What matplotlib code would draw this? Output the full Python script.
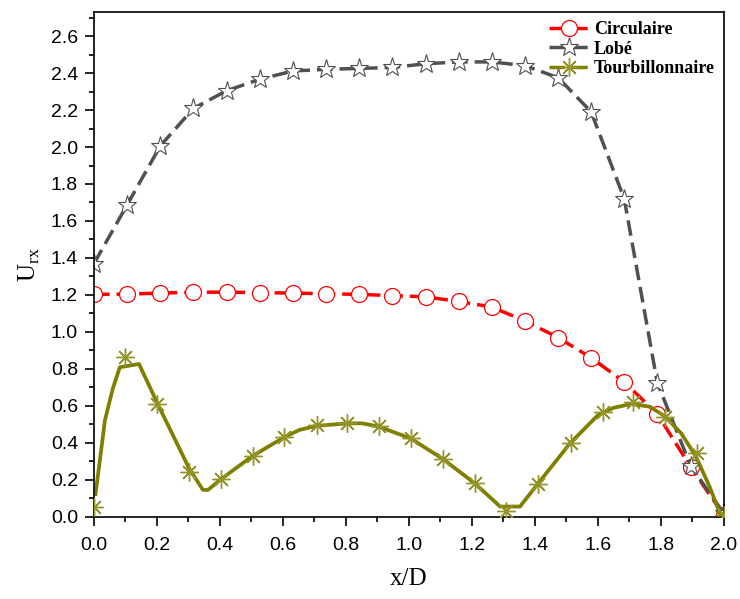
import matplotlib
matplotlib.use("Agg")
import matplotlib.pyplot as plt
from matplotlib.ticker import MultipleLocator

# x/D positions of the markers (circulaire and lobe share them)
x_pts = [0.0, 0.105, 0.211, 0.316, 0.421, 0.526, 0.632, 0.737, 0.842, 0.947,
         1.053, 1.158, 1.263, 1.368, 1.474, 1.579, 1.684, 1.789, 1.895, 2.0]

circulaire = [1.203, 1.205, 1.21, 1.215, 1.215, 1.213, 1.21, 1.207, 1.203, 1.197,
              1.19, 1.165, 1.135, 1.06, 0.97, 0.86, 0.73, 0.557, 0.27, 0.01]

lobe = [1.37, 1.686, 2.007, 2.209, 2.304, 2.366, 2.411, 2.42, 2.425, 2.43,
        2.45, 2.46, 2.46, 2.44, 2.375, 2.19, 1.72, 0.726, 0.276, 0.02]

# tourbillonnaire: markers and the (denser) solid curve
tourb_x = [0.0, 0.098, 0.201, 0.302, 0.402, 0.504, 0.604, 0.707, 0.805, 0.905,
           1.008, 1.108, 1.209, 1.308, 1.411, 1.515, 1.617, 1.712, 1.814, 1.916, 2.0]
tourb_y = [0.055, 0.867, 0.611, 0.245, 0.204, 0.33, 0.434, 0.497, 0.506, 0.492,
           0.427, 0.315, 0.182, 0.03, 0.18, 0.398, 0.567, 0.62, 0.54, 0.348, 0.01]

curve_x = [0.005, 0.035, 0.06, 0.082, 0.143, 0.204, 0.302, 0.346, 0.362, 0.404,
           0.504, 0.604, 0.652, 0.705, 0.805, 0.852, 0.905, 1.005, 1.105, 1.209,
           1.29, 1.353, 1.411, 1.512, 1.601, 1.65, 1.707, 1.765, 1.812, 1.865,
           1.912, 1.955, 1.99]
curve_y = [0.124, 0.524, 0.695, 0.809, 0.827, 0.605, 0.263, 0.146, 0.146, 0.205,
           0.33, 0.431, 0.47, 0.492, 0.506, 0.506, 0.488, 0.425, 0.317, 0.182,
           0.056, 0.056, 0.182, 0.398, 0.551, 0.59, 0.611, 0.596, 0.546, 0.452,
           0.326, 0.164, 0.01]

fig = plt.figure(figsize=(7.40, 5.99), dpi=100)
ax = fig.add_axes([0.127, 0.137, 0.851, 0.843])

ax.plot(x_pts, circulaire, color="red", lw=2.5, dashes=(4.5, 2),
        marker="o", ms=11.5, mfc="white", mec="red", mew=0.9, label="Circulaire")
ax.plot(x_pts, lobe, color="#505050", lw=2.5, dashes=(4.5, 2),
        marker="*", ms=14, mfc="white", mec="#505050", mew=0.8, label="Lobé")
ax.plot(curve_x, curve_y, color="#808000", lw=2.7, solid_joinstyle="round")
ax.plot(tourb_x, tourb_y, ls="none", marker=(8, 2, 0), ms=13, mec="#94942a",
        mew=1.0, zorder=3)
# proxy for the legend entry
ax.plot([], [], color="#808000", lw=2.5, dashes=(4.5, 2), marker=(8, 2, 0), ms=13,
        mec="#94942a", mew=1.0, label="Tourbillonnaire")

ax.set_xlim(0, 2.0)
ax.set_ylim(0, 2.73)
ax.xaxis.set_major_locator(MultipleLocator(0.2))
ax.xaxis.set_minor_locator(MultipleLocator(0.1))
ax.yaxis.set_major_locator(MultipleLocator(0.2))
ax.yaxis.set_minor_locator(MultipleLocator(0.1))
ax.tick_params(which="both", direction="out", top=False, right=False, width=1.2)
ax.tick_params(which="major", length=6.5, labelsize=14, pad=5)
ax.tick_params(axis="x", which="major", pad=8)
ax.tick_params(which="minor", length=3.5)
for lab in ax.get_xticklabels() + ax.get_yticklabels():
    lab.set_fontfamily("Liberation Sans")
for s in ax.spines.values():
    s.set_linewidth(1.2)

ax.set_xlabel("x/D", fontsize=18, family="Liberation Serif", labelpad=10)
ax.set_ylabel(r"U$_{\mathregular{rx}}$", fontsize=18, family="Liberation Serif", labelpad=6)

ax.legend(loc="upper right", bbox_to_anchor=(1.0, 1.0), frameon=False,
          prop={"family": "Liberation Serif", "weight": "bold", "size": 13},
          handlelength=2.3, handletextpad=0.2, labelspacing=0.15,
          borderaxespad=0.2, borderpad=0.3)

fig.savefig("out.png", dpi=100)
